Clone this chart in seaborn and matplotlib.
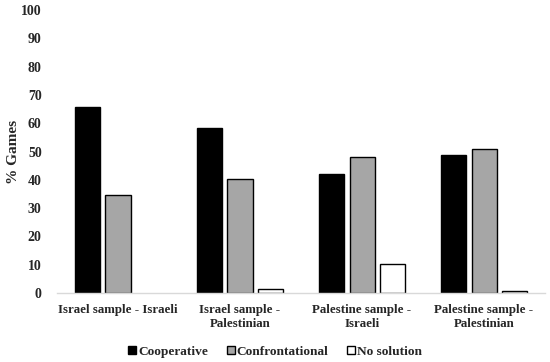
import pandas as pd
import matplotlib
matplotlib.use("Agg")
import matplotlib.pyplot as plt
import seaborn as sns

# --- Data ---
GROUPS = ["Israel sample - Israeli", "Israel sample -\nPalestinian",
          "Palestine sample -\nIsraeli", "Palestine sample -\nPalestinian"]
OUTCOMES = ["Cooperative", "Confrontational", "No solution"]
COOPERATIVE = [65.8, 58.3, 42.1, 48.8]
CONFRONTATIONAL = [34.5, 40.3, 48.2, 50.8]
NO_SOLUTION = [0.0, 1.5, 10.2, 0.7]

PALETTE = {"Cooperative": "#000000", "Confrontational": "#a6a6a6", "No solution": "#ffffff"}

sns.set_style("white")
plt.rcParams["font.family"] = ["Liberation Serif", "DejaVu Serif"]
plt.rcParams["font.weight"] = "bold"

df = pd.DataFrame({
    "group": GROUPS * 3,
    "outcome": [o for o in OUTCOMES for _ in GROUPS],
    "value": COOPERATIVE + CONFRONTATIONAL + NO_SOLUTION,
})

fig = plt.figure(figsize=(5.5, 3.62), dpi=100)
ax = fig.add_axes([0.1036, 0.1906, 0.8874, 0.7814])

sns.barplot(data=df, x="group", y="value", hue="outcome", order=GROUPS,
            hue_order=OUTCOMES, palette=PALETTE, width=0.76, gap=0.19,
            edgecolor="black", linewidth=1.0, ax=ax)

# empty bars leave no outline in the reference
for cont in ax.containers:
    for bar in cont:
        if bar.get_height() == 0:
            bar.set_linewidth(0)

ax.set_ylim(0, 100)
ax.set_xlim(-0.5, 3.5)
ax.set_yticks(range(0, 101, 10))
ax.tick_params(axis="both", length=0, labelsize=10)
ax.tick_params(axis="x", pad=8, labelsize=9.3)
ax.tick_params(axis="y", pad=11)
for lab in ax.get_xticklabels() + ax.get_yticklabels():
    lab.set_fontweight("bold")
ax.set_xlabel("")
ax.set_ylabel("% Games", fontsize=11, fontweight="bold")
ax.yaxis.set_label_coords(-0.076, 0.5)

for side in ["top", "right", "left"]:
    ax.spines[side].set_visible(False)
ax.spines["bottom"].set_color("#d9d9d9")
ax.spines["bottom"].set_linewidth(1.0)

# Legend below the plot
ax.legend_.remove()
handles, labels = ax.get_legend_handles_labels()
fig.legend(handles, labels, loc="lower center", bbox_to_anchor=(0.5, -0.022),
           ncol=3, frameon=False, handlelength=0.6, handleheight=0.6,
           handletextpad=0.15, columnspacing=1.4, prop={"weight": "bold", "size": 9.6})

fig.savefig("out.png", dpi=100)
